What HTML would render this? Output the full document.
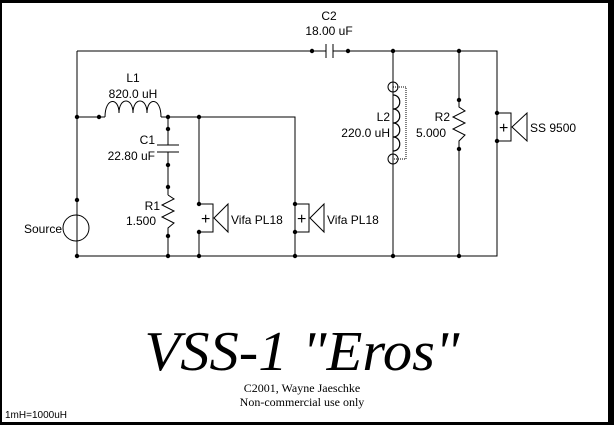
<!DOCTYPE html>
<html><head><meta charset="utf-8"><style>
html,body{margin:0;padding:0;background:#000;}
svg{display:block;}
text{font-family:"Liberation Sans",sans-serif;font-size:12px;fill:#000;}
.p{font-size:16px;}
</style></head><body>
<svg width="614" height="425" viewBox="0 0 614 425" xmlns="http://www.w3.org/2000/svg">
<rect x="0" y="0" width="614" height="425" fill="#000"/>
<rect x="2" y="3" width="606" height="419" fill="#fff"/>
<g stroke="#000" stroke-width="1" fill="none">
<path d="M77 51H312 M348 51H497V256H77V51"/>
<path d="M312 51H326 M326 44V58 M333 44V58 M333 51H348"/>
<path d="M77 117H105 M161 117H295V256"/>
<path d="M105 117 C105 97 119 97 119 113 C119 97 133 97 133 113 C133 97 147 97 147 113 C147 97 161 97 161 117"/>
<path d="M168 117V145 M157 145H179 M157 152H179 M168 152V195"/>
<path d="M168 195L174 199L162 205L174 211L162 217L174 223L168 228V256"/>
<path d="M77 117V215 M77 241V256"/>
<circle cx="76" cy="228" r="13"/>
<path d="M199 117V204 M199 204H213V232H199 M199 232V256"/>
<path d="M214 218L228 204V232Z"/>
<path d="M295 204H309V232H295"/>
<path d="M310 218L324 204V232Z"/>
<path d="M393 51V256"/>
<circle cx="393" cy="87" r="5"/>
<circle cx="393" cy="159" r="5"/>
<path d="M393 95 C402 95 402 109 393 109 M393 109 C402 109 402 123 393 123 M393 123 C402 123 402 137 393 137 M393 137 C402 137 402 151 393 151" stroke-width="1.2"/>
<rect x="393" y="87" width="13" height="72" stroke-dasharray="1,1"/>
<path d="M459 51V107L465 111L453 117L465 123L453 129L465 135L459 141V256"/>
<path d="M497 113H511V141H497"/>
<path d="M512 127L527 113V141Z"/>
</g>
<g fill="#000">
<circle cx="77" cy="117" r="2.2"/><circle cx="99" cy="117" r="2.2"/><circle cx="168" cy="117" r="2.2"/><circle cx="199" cy="117" r="2.2"/>
<circle cx="168" cy="129" r="2.2"/><circle cx="168" cy="165" r="2.2"/><circle cx="168" cy="187" r="2.2"/><circle cx="168" cy="236" r="2.2"/>
<circle cx="77" cy="200" r="2.2"/><circle cx="199" cy="204" r="2.2"/><circle cx="199" cy="232" r="2.2"/>
<circle cx="295" cy="204" r="2.2"/><circle cx="295" cy="232" r="2.2"/>
<circle cx="77" cy="256" r="2.2"/><circle cx="168" cy="256" r="2.2"/><circle cx="199" cy="256" r="2.2"/><circle cx="295" cy="256" r="2.2"/><circle cx="393" cy="256" r="2.2"/><circle cx="459" cy="256" r="2.2"/>
<circle cx="312" cy="51" r="2.2"/><circle cx="348" cy="51" r="2.2"/><circle cx="393" cy="51" r="2.2"/><circle cx="459" cy="51" r="2.2"/>
<circle cx="459" cy="100" r="2.2"/><circle cx="459" cy="149" r="2.2"/>
<circle cx="497" cy="113" r="2.2"/><circle cx="497" cy="141" r="2.2"/>
</g>
<text x="329" y="20" text-anchor="middle">C2</text>
<text x="329" y="35" text-anchor="middle">18.00 uF</text>
<text x="133" y="82" text-anchor="middle">L1</text>
<text x="133" y="98" text-anchor="middle">820.0 uH</text>
<text x="155" y="144" text-anchor="end">C1</text>
<text x="155" y="160" text-anchor="end">22.80 uF</text>
<text x="160" y="210" text-anchor="end">R1</text>
<text x="156" y="225" text-anchor="end">1.500</text>
<text x="62" y="233" text-anchor="end">Source</text>
<text class="p" x="201" y="224">+</text>
<text x="231" y="224">Vifa PL18</text>
<text class="p" x="297" y="224">+</text>
<text x="327" y="224">Vifa PL18</text>
<text x="390" y="121" text-anchor="end">L2</text>
<text x="390" y="137" text-anchor="end">220.0 uH</text>
<text x="450" y="121" text-anchor="end">R2</text>
<text x="446" y="137" text-anchor="end">5.000</text>
<text class="p" x="499" y="133">+</text>
<text x="530" y="132">SS 9500</text>
<text x="302" y="370" text-anchor="middle" style="font-family:'Liberation Serif',serif;font-style:italic;font-size:56px;" textLength="315" lengthAdjust="spacingAndGlyphs">VSS-1 "Eros"</text>
<text x="302" y="392" text-anchor="middle" style="font-family:'Liberation Serif',serif;font-size:12px;">C2001, Wayne Jaeschke</text>
<text x="302" y="406" text-anchor="middle" style="font-family:'Liberation Serif',serif;font-size:12px;">Non-commercial use only</text>
<text x="5" y="418" style="font-size:10px;">1mH=1000uH</text>
</svg>
</body></html>
